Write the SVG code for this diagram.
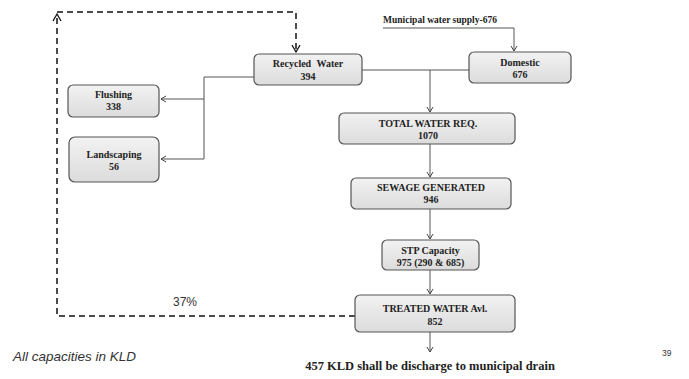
<svg xmlns="http://www.w3.org/2000/svg" width="689" height="379" viewBox="0 0 689 379">
<defs>
<linearGradient id="g" x1="0" y1="0" x2="0" y2="1"><stop offset="0" stop-color="#f2f2f2"/><stop offset="1" stop-color="#dcdcdc"/></linearGradient>
<marker id="a" markerWidth="8" markerHeight="8" refX="6" refY="4" orient="auto" markerUnits="userSpaceOnUse"><path d="M1,1 L6,4 L1,7" fill="none" stroke="#444" stroke-width="1"/></marker>
<marker id="ad" markerWidth="10" markerHeight="10" refX="8" refY="5" orient="auto" markerUnits="userSpaceOnUse"><path d="M1,1 L8,5 L1,9" fill="none" stroke="#111" stroke-width="1.3"/></marker>
</defs>
<style>
.box{fill:url(#g);stroke:#555;stroke-width:1.2}
.t{font-family:"Liberation Serif",serif;font-weight:bold;font-size:10px;fill:#222;text-anchor:middle}
.c{fill:none;stroke:#555;stroke-width:1}
.d{fill:none;stroke:#111;stroke-width:1.5;stroke-dasharray:6,4}
</style>
<rect width="689" height="379" fill="#fff"/>
<g id="connectors">
<path class="c" d="M254,77 H204 V159 H161" marker-end="url(#a)"/>
<path class="c" d="M204,99 H161" marker-end="url(#a)"/>
<path class="c" d="M383,28 H514 V51" marker-end="url(#a)"/>
<path class="c" d="M362,70 H469"/>
<path class="c" d="M430,70 V112" marker-end="url(#a)"/>
<path class="c" d="M430,144 V177" marker-end="url(#a)"/>
<path class="c" d="M430,209 V239" marker-end="url(#a)"/>
<path class="c" d="M430,270 V294" marker-end="url(#a)"/>
<path class="c" d="M430,332 V352" marker-end="url(#a)"/>
<path class="d" d="M355,316 H57 V14" marker-end="url(#ad)"/>
<path class="d" d="M57,12 H296 V52" marker-end="url(#ad)"/>
</g>
<g id="recycled"><rect class="box" x="254" y="54" width="108" height="31" rx="5"/><text class="t" x="308" y="67" word-spacing="3">Recycled Water</text><text class="t" x="308" y="80">394</text></g>
<g id="flushing"><rect class="box" x="68" y="85" width="91" height="32" rx="5"/><text class="t" x="113.5" y="98">Flushing</text><text class="t" x="113.5" y="110">338</text></g>
<g id="landscaping"><rect class="box" x="69" y="137" width="90" height="45" rx="6"/><text class="t" x="114" y="158">Landscaping</text><text class="t" x="114" y="170">56</text></g>
<g id="domestic"><rect class="box" x="469" y="52" width="102" height="31" rx="5"/><text class="t" x="520" y="66">Domestic</text><text class="t" x="520" y="78">676</text></g>
<g id="total"><rect class="box" x="339" y="113" width="176" height="31" rx="5"/><text class="t" x="428" y="127">TOTAL WATER REQ.</text><text class="t" x="428" y="139">1070</text></g>
<g id="sewage"><rect class="box" x="351" y="178" width="160" height="31" rx="5"/><text class="t" x="431" y="191">SEWAGE GENERATED</text><text class="t" x="431" y="203">946</text></g>
<g id="stp"><rect class="box" x="382" y="240" width="97" height="30" rx="5"/><text class="t" x="430.5" y="254">STP Capacity</text><text class="t" x="430.5" y="266">975 (290 &amp; 685)</text></g>
<g id="treated"><rect class="box" x="355" y="295" width="160" height="37" rx="5"/><text class="t" x="435" y="312">TREATED WATER Avl.</text><text class="t" x="435" y="325">852</text></g>
<g id="labels">
<text class="t" x="440" y="23" style="font-size:9.5px">Municipal water supply-676</text>
<text class="t" x="430" y="370" style="font-size:12.5px">457 KLD shall be discharge to municipal drain</text>
<text x="173" y="306" font-family="Liberation Sans,sans-serif" font-size="12" fill="#333">37%</text>
<text x="13" y="361" font-family="Liberation Sans,sans-serif" font-size="13.5" font-style="italic" fill="#333">All capacities in KLD</text>
<text x="662" y="356" font-family="Liberation Sans,sans-serif" font-size="8.5" fill="#333">39</text>
</g>
</svg>
